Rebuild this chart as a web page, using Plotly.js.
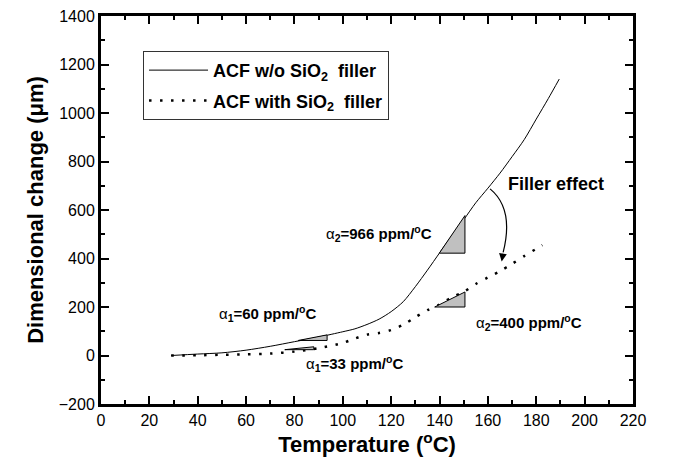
<!DOCTYPE html>
<html><head><meta charset="utf-8">
<script src="https://cdn.plot.ly/plotly-3.0.1.min.js"></script>
<style>html,body{margin:0;padding:0;background:#fff}#chart{width:677px;height:470px}</style>
</head><body><div id="chart"></div>
<script>
// Temperature (°C) and dimensional change (µm)
const tempWithout = [29,40,50,60,70,80,90,100,105,110,115,120,125,130,135,140,145,150,155,160,165,170,175,180,185,189.5];
const dimWithout  = [0,6,11,22,38,57,76,98,110,128,150,181,222,284,352,423,493,560,630,690,752,820,890,975,1060,1140];
const tempWith = [29,40,50,60,70,80,90,100,105,110,115,120,125,130,135,140,145,150,155,160,165,170,175,180,182.5];
const dimWith  = [0,1,3,5,8,16,30,52,70,86,93,105,127,158,187,210,240,262,295,322,348,378,410,440,455];

const seriesNames = ['ACF w/o SiO<sub>2</sub>  filler','ACF with SiO<sub>2</sub>  filler'];

// slope triangles (temperature, dimensional change)
const tri1T = [81.6,93.5,93.5,81.6], tri1V = [62,85,62,62];
const tri2T = [76,88,88,76],         tri2V = [24,36,24,24];
const tri3T = [139.9,150.5,150.5,139.9], tri3V = [422,577,422,422];
const tri4T = [138,150.5,150.5,138], tri4V = [200,262,200,200];

// annotation labels
const A = '<span style="font-weight:normal">α</span>';
const labelTexts = [A+'<sub>2</sub>=966 ppm/<sup>o</sup>C', A+'<sub>1</sub>=60 ppm/<sup>o</sup>C', A+'<sub>1</sub>=33 ppm/<sup>o</sup>C', A+'<sub>2</sub>=400 ppm/<sup>o</sup>C', 'Filler effect'];
const labelT = [115,68.9,105,176.8,188.2];
const labelV = [503,173,-33,137,708];
const labelSize = [15,15,15,15,18];

// filler-effect arrow: start, control, end, arrow tip
const arrowStart = [160.9,687], arrowCtrl = [170.9,605], arrowEnd = [166.3,425], arrowTip = [165.7,388];

const FONT = 'Liberation Sans, Arial, sans-serif';

const traces = [
  {x: tempWithout, y: dimWithout, mode:'lines', name: seriesNames[0], legendgroup:'a',
   line:{color:'black', width:1, shape:'spline', smoothing:0.8}},
  {x: tempWith, y: dimWith, mode:'lines', name: seriesNames[1], legendgroup:'b',
   line:{color:'black', width:2.5, dash:'2.5px,8.5px', shape:'spline', smoothing:0.8}},
];
[[tri1T,tri1V],[tri2T,tri2V],[tri3T,tri3V],[tri4T,tri4V]].forEach(([t,v])=>{
  traces.push({x:t, y:v, mode:'lines', fill:'toself', fillcolor:'#c0c0c0',
    line:{color:'black', width:1}, showlegend:false, hoverinfo:'skip'});
});

const annotations = labelTexts.map((t,i)=>({
  x: labelT[i], y: labelV[i], xref:'x', yref:'y', text: t, showarrow:false,
  xanchor:'center', yanchor:'middle',
  font:{family:FONT, size:labelSize[i], color:'black', weight:'bold'}
}));
annotations.push({
  x: arrowTip[0], y: arrowTip[1], ax: arrowEnd[0], ay: arrowEnd[1],
  xref:'x', yref:'y', axref:'x', ayref:'y', text:'', showarrow:true,
  arrowhead:2, arrowsize:1.3, arrowwidth:1.2, arrowcolor:'black', standoff:0
});

const layout = {
  width:677, height:470,
  margin:{l:101, r:44, t:16, b:66},
  paper_bgcolor:'white', plot_bgcolor:'white',
  font:{family:FONT, color:'black'},
  showlegend:true,
  legend:{x:0.079, y:0.91, xanchor:'left', yanchor:'top', bgcolor:'white',
    bordercolor:'#333', borderwidth:1, itemwidth:59, tracegroupgap:4,
    traceorder:'grouped',
    font:{family:FONT, size:18, color:'black', weight:'bold'}},
  xaxis:{range:[0,220], tick0:0, dtick:20, ticks:'inside', ticklen:8, tickwidth:2, tickcolor:'black',
    showline:true, linewidth:3, linecolor:'black', mirror:'ticks', showgrid:false, zeroline:false,
    minor:{dtick:10, ticks:'inside', ticklen:4, tickwidth:2, tickcolor:'black', showgrid:false},
    tickfont:{family:FONT, size:16, color:'black'},
    title:{text:'Temperature (<sup>o</sup>C)', font:{family:FONT, size:22, color:'black', weight:'bold'}, standoff:8}},
  yaxis:{range:[-200,1400], tick0:0, dtick:200, ticks:'inside', ticklen:8, tickwidth:2, tickcolor:'black',
    showline:true, linewidth:3, linecolor:'black', mirror:'ticks', showgrid:false, zeroline:false,
    minor:{dtick:100, ticks:'inside', ticklen:4, tickwidth:2, tickcolor:'black', showgrid:false},
    tickfont:{family:FONT, size:16, color:'black'},
    title:{text:'Dimensional change (μm)', font:{family:FONT, size:22, color:'black', weight:'bold'}, standoff:10}},
  shapes:[{type:'path', xref:'x', yref:'y',
    path:'M'+arrowStart[0]+','+arrowStart[1]+' Q'+arrowCtrl[0]+','+arrowCtrl[1]+' '+arrowEnd[0]+','+arrowEnd[1],
    line:{color:'black', width:1.2}}],
  annotations: annotations
};

Plotly.newPlot('chart', traces, layout, {staticPlot:true, displayModeBar:false});
</script></body></html>
